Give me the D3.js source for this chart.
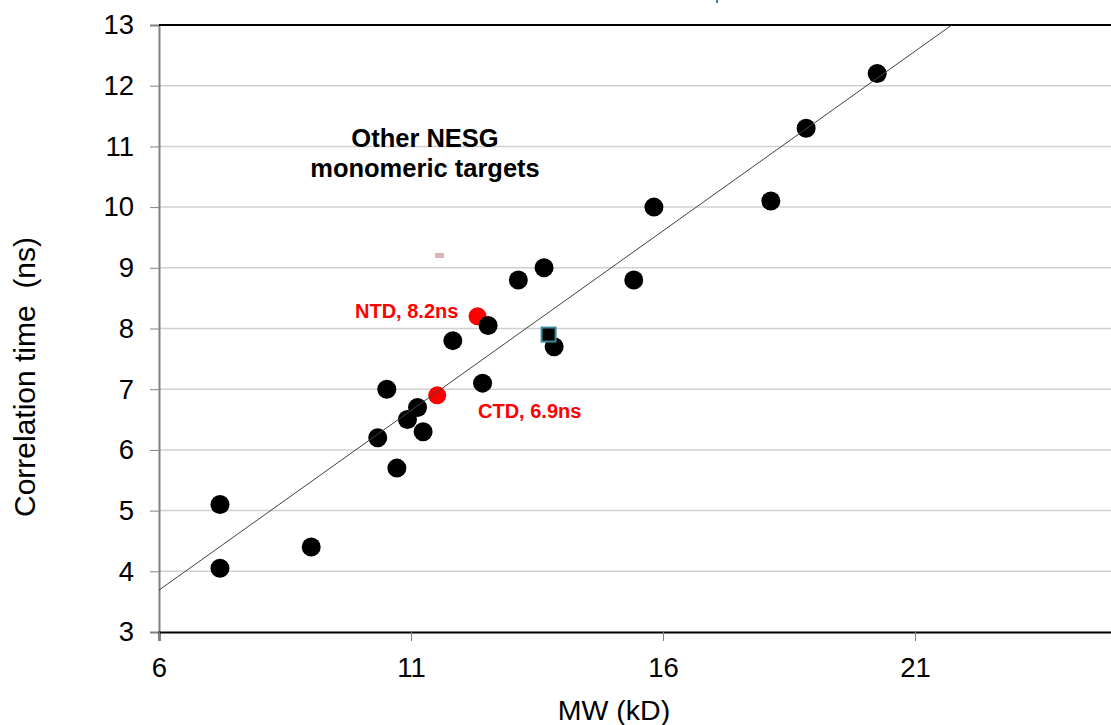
<!DOCTYPE html>
<html>
<head>
<meta charset="utf-8">
<script src="https://cdn.jsdelivr.net/npm/d3@7"></script>
<style>
  body { margin: 0; background: #fff; }
  text { font-family: "Liberation Sans", Arial, sans-serif; }
</style>
</head>
<body>
<script>
"use strict";

// Other NESG monomeric targets (black dots)
const mwTargets  = [7.21, 7.21, 9.02, 10.34, 10.52, 10.72, 10.93, 11.13, 11.24, 11.83,
                    12.42, 12.53, 13.13, 13.64, 13.84, 15.42, 15.82, 18.14, 18.84, 20.25];
const tauTargets = [5.1, 4.05, 4.4, 6.2, 7.0, 5.7, 6.5, 6.7, 6.3, 7.8,
                    7.1, 8.05, 8.8, 9.0, 7.7, 8.8, 10.0, 10.1, 11.3, 12.2];

// the two domains (red dots)
const domainNames = ["NTD, 8.2ns", "CTD, 6.9ns"];
const mwDomains   = [12.32, 11.52];
const tauDomains  = [8.2, 6.9];

// the odd square marker
const mwSquare  = [13.73];
const tauSquare = [7.9];

// linear fit, its two ends
const trendMw  = [6, 21.73];
const trendTau = [3.69, 13];

const xTicks = [6, 11, 16, 21];
const yTicks = [3, 4, 5, 6, 7, 8, 9, 10, 11, 12, 13];

const width = 1111;
const height = 725;
const plotLeft = 159, plotTop = 25, plotBottom = 632;

let svg = d3.select("body").append("svg")
    .attr("width", width)
    .attr("height", height);

let x = d3.scaleLinear().domain([6, 25]).range([plotLeft, plotLeft + 19 * 50.4]);
let y = d3.scaleLinear().domain([3, 13]).range([plotBottom, plotTop]);

// grid lines
svg.append("g")
  .selectAll("line")
  .data(yTicks.filter(t => t > 3 && t < 13))
  .enter().append("line")
  .attr("x1", plotLeft).attr("x2", width)
  .attr("y1", d => y(d)).attr("y2", d => y(d))
  .attr("stroke", "#d0d0d0")
  .attr("stroke-width", 1.5);

// y axis
let yAxis = svg.append("g")
    .attr("transform", `translate(${plotLeft},0)`)
    .call(d3.axisLeft(y).tickValues(yTicks).tickSize(9).tickPadding(16));
yAxis.select(".domain").attr("stroke", "#808080").attr("stroke-width", 2);
yAxis.selectAll(".tick line").attr("stroke", "#808080");
yAxis.selectAll("text")
  .attr("font-size", 27.5)
  .attr("fill", "#000")
  .style("font-family", "'Liberation Sans', Arial, sans-serif");

// x axis
let xAxis = svg.append("g")
    .attr("transform", `translate(0,${plotBottom})`)
    .call(d3.axisBottom(x).tickValues(xTicks).tickSize(9).tickPadding(16));
xAxis.select(".domain").attr("stroke", "#000").attr("stroke-width", 2);
xAxis.selectAll(".tick line").attr("stroke", "#808080");
xAxis.selectAll("text")
  .attr("font-size", 27.5)
  .attr("fill", "#000")
  .style("font-family", "'Liberation Sans', Arial, sans-serif");

// top border
svg.append("line")
  .attr("x1", plotLeft).attr("x2", width)
  .attr("y1", y(13)).attr("y2", y(13))
  .attr("stroke", "#000")
  .attr("stroke-width", 2);

// axis titles
svg.append("text")
  .attr("x", 614)
  .attr("y", 720)
  .attr("text-anchor", "middle")
  .attr("font-size", 28.5)
  .text("MW (kD)");

svg.append("text")
  .attr("transform", "translate(35,377) rotate(-90)")
  .attr("text-anchor", "middle")
  .attr("font-size", 30)
  .style("white-space", "pre")
  .text("Correlation time  (ns)");

// red domain dots
svg.append("g")
  .selectAll("circle")
  .data(mwDomains)
  .enter().append("circle")
  .attr("cx", d => x(d))
  .attr("cy", (d, i) => y(tauDomains[i]))
  .attr("r", 9)
  .attr("fill", "#ff0000");

// black target dots
svg.append("g")
  .selectAll("circle")
  .data(mwTargets)
  .enter().append("circle")
  .attr("cx", d => x(d))
  .attr("cy", (d, i) => y(tauTargets[i]))
  .attr("r", 9.5)
  .attr("fill", "#000");

// square marker
svg.append("g")
  .selectAll("rect")
  .data(mwSquare)
  .enter().append("rect")
  .attr("x", d => x(d) - 7)
  .attr("y", (d, i) => y(tauSquare[i]) - 7)
  .attr("width", 14)
  .attr("height", 14)
  .attr("fill", "#000")
  .attr("stroke", "#3b8a9e")
  .attr("stroke-width", 2);

// trend line, clipped to the plot
svg.append("clipPath")
    .attr("id", "plotClip")
  .append("rect")
    .attr("x", plotLeft).attr("y", plotTop)
    .attr("width", width - plotLeft).attr("height", plotBottom - plotTop);

svg.append("line")
  .attr("clip-path", "url(#plotClip)")
  .attr("x1", x(trendMw[0])).attr("y1", y(trendTau[0]))
  .attr("x2", x(trendMw[1])).attr("y2", y(trendTau[1]))
  .attr("stroke", "#404040")
  .attr("stroke-width", 1);

// labels
let note = svg.append("text")
    .attr("text-anchor", "middle")
    .attr("font-size", 25.5)
    .attr("font-weight", "bold");
note.append("tspan").attr("x", 425).attr("y", 147).text("Other NESG");
note.append("tspan").attr("x", 425).attr("y", 177).text("monomeric targets");

const labelPos = [[355, 318], [478, 418]];
svg.append("g")
  .selectAll("text")
  .data(domainNames)
  .enter().append("text")
  .attr("x", (d, i) => labelPos[i][0])
  .attr("y", (d, i) => labelPos[i][1])
  .attr("font-size", 20)
  .attr("font-weight", "bold")
  .attr("fill", "#ff0000")
  .text(d => d);

// stray bits left over in the original figure
svg.append("rect")
  .attr("x", 435).attr("y", 253)
  .attr("width", 9).attr("height", 5)
  .attr("fill", "#dcb4b8");
svg.append("rect")
  .attr("x", 716).attr("y", 0)
  .attr("width", 2).attr("height", 3)
  .attr("fill", "#4472c4");
</script>
</body>
</html>
